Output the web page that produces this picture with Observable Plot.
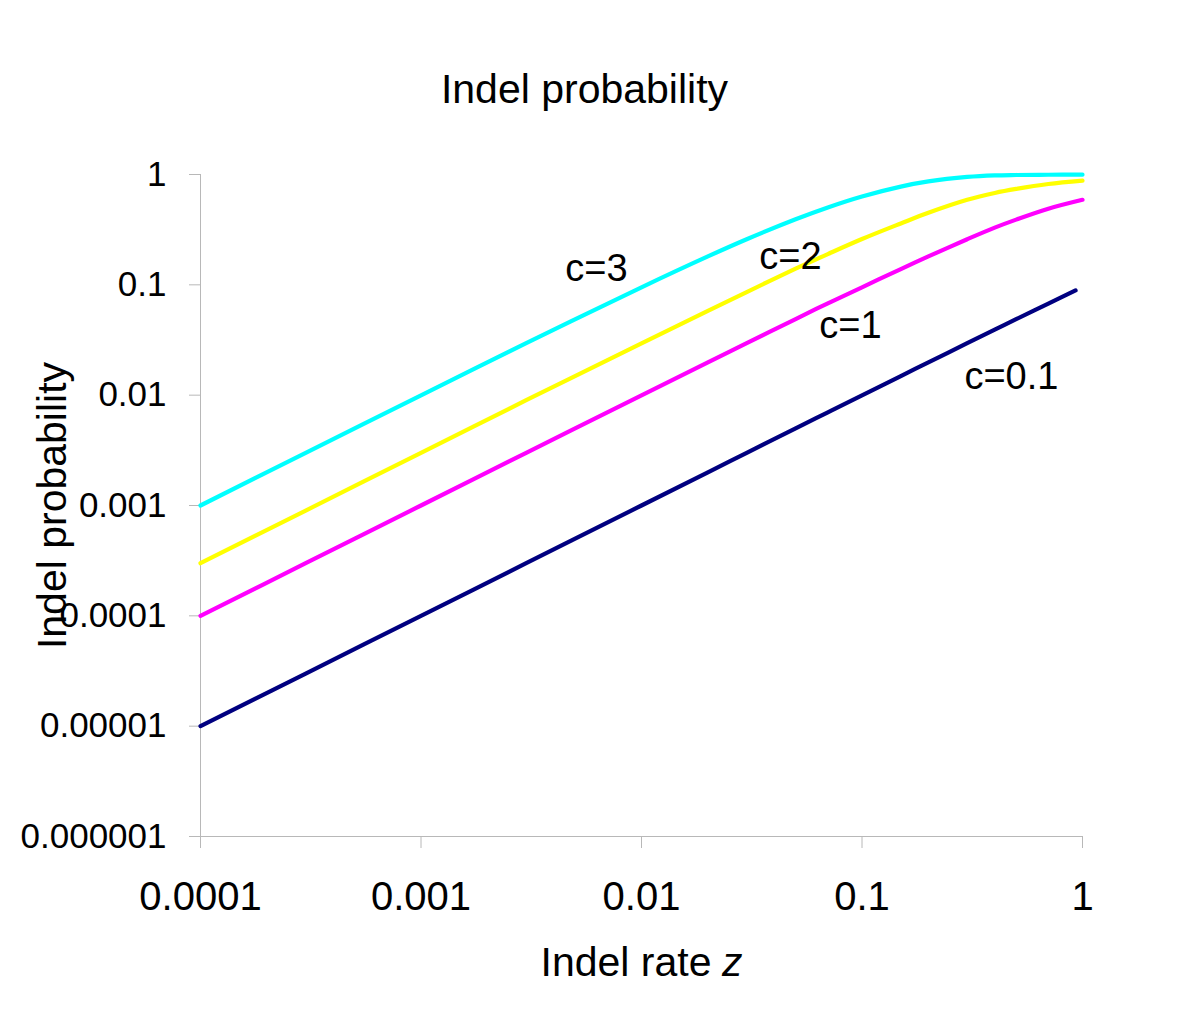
<!DOCTYPE html>
<html>
<head>
<meta charset="utf-8">
<script src="https://cdn.jsdelivr.net/npm/d3@7"></script>
<script src="https://cdn.jsdelivr.net/npm/@observablehq/plot@0.6"></script>
<style>
  html, body { margin: 0; padding: 0; background: #fff; }
  #chart svg { display: block; }
</style>
</head>
<body>
<div id="chart"></div>
<script>
// Indel rate z (x values)
const zGrid = [0.0001, 0.0003, 0.001, 0.003, 0.01, 0.02, 0.03, 0.05, 0.07, 0.1, 0.15, 0.2, 0.3, 0.4, 0.5, 0.7, 1];
const zNavy = [0.0001, 0.0003, 0.001, 0.003, 0.01, 0.02, 0.03, 0.05, 0.07, 0.1, 0.15, 0.2, 0.3, 0.4, 0.5, 0.7, 0.93];

// Indel probability per curve
const c3   = [0.001, 0.003, 0.00995, 0.0296, 0.095, 0.181, 0.259, 0.393, 0.503, 0.632, 0.777, 0.865, 0.95, 0.982, 0.99, 0.995, 0.996];
const c2   = [0.0003, 0.0009, 0.003, 0.009, 0.0295, 0.058, 0.086, 0.14, 0.19, 0.26, 0.36, 0.45, 0.59, 0.68, 0.74, 0.82, 0.88];
const c1   = [0.0001, 0.0003, 0.001, 0.003, 0.00995, 0.0198, 0.0296, 0.049, 0.068, 0.095, 0.139, 0.181, 0.259, 0.33, 0.39, 0.49, 0.59];
const c01  = [0.00001, 0.00003, 0.0001, 0.0003, 0.001, 0.002, 0.003, 0.005, 0.007, 0.00995, 0.0149, 0.0198, 0.0296, 0.0392, 0.0488, 0.0676, 0.089];

const seriesNames  = ["c=3", "c=2", "c=1", "c=0.1"];
const seriesColors = ["#00ffff", "#ffff00", "#ff00ff", "#000080"];

// label anchor positions (data coordinates)
const labelX = [0.00625, 0.0474, 0.0887, 0.476];
const labelY = [0.14, 0.18, 0.0428, 0.0147];

const xTicks = [0.0001, 0.001, 0.01, 0.1, 1];
const yTicks = [0.000001, 0.00001, 0.0001, 0.001, 0.01, 0.1, 1];

const title = "Indel probability";
const yLabel = "Indel probability";
const xLabelMain = "Indel rate";
const xLabelVar = "z";

const seriesValues = [c3, c2, c1, c01];
const seriesZ = [zGrid, zGrid, zGrid, zNavy];
const rows = [];
seriesNames.forEach((name, i) => {
  seriesValues[i].forEach((v, j) => rows.push({series: name, z: seriesZ[i][j], p: v}));
});
const labels = seriesNames.map((name, i) => ({series: name, z: labelX[i], p: labelY[i]}));

const font = "'Liberation Sans', Arial, Helvetica, sans-serif";
const axisGray = "#b8b8b8";

const chart = Plot.plot({
  width: 1200,
  height: 1015,
  marginLeft: 200,
  marginRight: 118,
  marginTop: 174,
  marginBottom: 179,
  style: {fontFamily: font, background: "#fff", color: "#000"},
  x: {type: "log", domain: [0.0001, 1]},
  y: {type: "log", domain: [0.000001, 1]},
  color: {domain: seriesNames, range: seriesColors},
  marks: [
    Plot.ruleX([0.0001], {stroke: axisGray, strokeWidth: 1}),
    Plot.ruleY([0.000001], {stroke: axisGray, strokeWidth: 1}),
    Plot.axisY({ticks: yTicks, tickFormat: d => String(d), tickSize: 11, tickPadding: 23,
      stroke: axisGray, fill: "#000", fontSize: 35, label: null}),
    Plot.axisX({ticks: xTicks, tickFormat: d => String(d), tickSize: 12, tickPadding: 33,
      stroke: axisGray, fill: "#000", fontSize: 40, label: null}),
    Plot.line(rows, {x: "z", y: "p", z: "series", stroke: "series", strokeWidth: 4.2,
      curve: "catmull-rom", strokeLinecap: "round"}),
    Plot.text(labels, {x: "z", y: "p", text: "series", fontSize: 38, fill: "#000"}),
    Plot.text([title], {frameAnchor: "top", dy: -101, dx: -57, fontSize: 41, fill: "#000"}),
    Plot.text([yLabel], {frameAnchor: "left", dx: -148, textAnchor: "middle", rotate: -90, fontSize: 41, fill: "#000"}),
    Plot.text([xLabelMain], {frameAnchor: "bottom", dy: 139, dx: -101, textAnchor: "start", fontSize: 41, fill: "#000"}),
    Plot.text([xLabelVar], {frameAnchor: "bottom", dy: 139, dx: 101, textAnchor: "end", fontSize: 41, fontStyle: "italic", fill: "#000"})
  ]
});
document.getElementById("chart").appendChild(chart);
</script>
</body>
</html>
